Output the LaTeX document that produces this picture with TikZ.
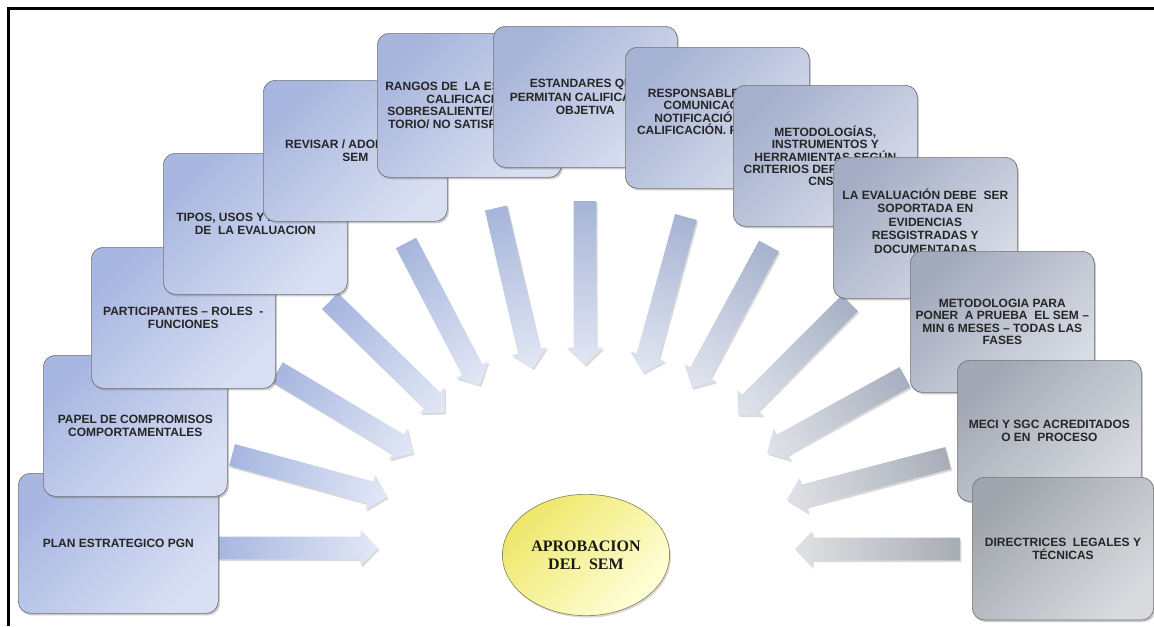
\documentclass[tikz,border=0pt]{standalone}
\usepackage{fontspec}
\setmainfont{Liberation Sans}
\newfontfamily\ellipsefont{Liberation Serif}
\usetikzlibrary{calc,shapes.geometric,shadows}

% palette: blue side on the left, grey side on the right
\definecolor{cardbluedark}{HTML}{A8B7E2}
\definecolor{cardbluelight}{HTML}{D9E0F4}
\definecolor{cardgreydark}{HTML}{A0A5AD}
\definecolor{cardgreylight}{HTML}{D8DADE}
\definecolor{arrbluedark}{HTML}{A6B6E0}
\definecolor{arrbluelight}{HTML}{E2E8F6}
\definecolor{arrgreydark}{HTML}{A8ACB3}
\definecolor{arrgreylight}{HTML}{E0E1E4}
\definecolor{ovaldark}{HTML}{EEE76A}
\definecolor{ovallight}{HTML}{FFFFDA}
\definecolor{ovalline}{HTML}{8A8757}

% block arrow dimensions
\newlength\arrshaft \setlength\arrshaft{8.5pt}
\newlength\arrhead \setlength\arrhead{13.5pt}
\newlength\arrheadlen \setlength\arrheadlen{13pt}

% shaded block arrow from a tail coordinate to a tip coordinate
\newcommand\blockarrow[3]{%
  \path let \p1=($(#3)-(#2)$) in \pgfextra{%
    \pgfmathsetmacro\arrtmplen{veclen(\x1,\y1)}%
    \pgfmathsetmacro\arrtmpang{atan2(\y1,\x1)}%
    \global\let\arrlen\arrtmplen
    \global\let\arrang\arrtmpang};
  \begin{scope}[shift={(#2)},xshift=1pt,yshift=-1.4pt,rotate=\arrang]
    \fill[black,opacity=0.15] (0,-\arrshaft) -- ({\arrlen pt-\arrheadlen},-\arrshaft)
      -- ({\arrlen pt-\arrheadlen},-\arrhead) -- (\arrlen pt,0)
      -- ({\arrlen pt-\arrheadlen},\arrhead) -- ({\arrlen pt-\arrheadlen},\arrshaft)
      -- (0,\arrshaft) -- cycle;
  \end{scope}
  \begin{scope}[transform canvas={shift={(#2)},rotate=\arrang}]
    \shade[#1] (0,-\arrshaft) -- ({\arrlen pt-\arrheadlen},-\arrshaft)
      -- ({\arrlen pt-\arrheadlen},-\arrhead) -- (\arrlen pt,0)
      -- ({\arrlen pt-\arrheadlen},\arrhead) -- ({\arrlen pt-\arrheadlen},\arrshaft)
      -- (0,\arrshaft) -- cycle;
  \end{scope}}

\tikzset{
  card/.style={rectangle, rounded corners=9pt, draw=black!55, line width=0.5pt,
    minimum width=138pt, minimum height=105.75pt, anchor=north west, inner sep=2pt,
    font=\bfseries\fontsize{9}{9.3}\selectfont, text=black!85, align=center,
    drop shadow={shadow xshift=1.2pt, shadow yshift=-1.5pt, opacity=0.35, fill=black!60},
    top color=cardbluedark!#1!cardgreydark, bottom color=cardbluelight!#1!cardgreylight,
    shading angle=45},
  arr/.style={left color=arrbluedark!#1!arrgreydark, right color=arrbluelight!#1!arrgreylight},
  oval/.style={ellipse, draw=ovalline, line width=0.5pt, minimum width=125pt, minimum height=91pt,
    top color=ovaldark, bottom color=ovallight, shading angle=45,
    drop shadow={shadow xshift=1pt, shadow yshift=-1.5pt, opacity=0.3, fill=black!50},
    font=\ellipsefont\bfseries\fontsize{12}{13.5}\selectfont, align=center, text=black!90},
  frame/.style={line width=2.3pt, black}
}

\begin{document}
\begin{tikzpicture}[x=0.75pt,y=-0.75pt]
\useasboundingbox (0,0) rectangle (1154,626);

% outer frame (top and left edges)
\coordinate (fbl) at (8.5,626);
\coordinate (ftl) at (8.5,8.5);
\coordinate (ftr) at (1154,8.5);
\draw[frame] (fbl) -- (ftl) -- (ftr);

% arrow tails and tips
\coordinate (s1) at (218,548);  \coordinate (e1) at (378,548);
\coordinate (s2) at (232,455);  \coordinate (e2) at (387,497);
\coordinate (s3) at (277,372);  \coordinate (e3) at (413,453);
\coordinate (s4) at (330,301);  \coordinate (e4) at (445,413);
\coordinate (s5) at (406,243);  \coordinate (e5) at (480,385);
\coordinate (s6) at (496,208);  \coordinate (e6) at (533,368);
\coordinate (s7) at (585,201);  \coordinate (e7) at (585,365);
\coordinate (s8) at (686,217);  \coordinate (e8) at (643,373);
\coordinate (s9) at (769,246);  \coordinate (e9) at (692,388);
\coordinate (s10) at (850,303); \coordinate (e10) at (738,415);
\coordinate (s11) at (905,377); \coordinate (e11) at (767,453);
\coordinate (s12) at (948,458); \coordinate (e12) at (787,500);
\coordinate (s13) at (960,549); \coordinate (e13) at (795,549);

\blockarrow{arr=100}{s1}{e1}
\blockarrow{arr=100}{s2}{e2}
\blockarrow{arr=98}{s3}{e3}
\blockarrow{arr=96}{s4}{e4}
\blockarrow{arr=92}{s5}{e5}
\blockarrow{arr=88}{s6}{e6}
\blockarrow{arr=80}{s7}{e7}
\blockarrow{arr=70}{s8}{e8}
\blockarrow{arr=58}{s9}{e9}
\blockarrow{arr=42}{s10}{e10}
\blockarrow{arr=26}{s11}{e11}
\blockarrow{arr=10}{s12}{e12}
\blockarrow{arr=0}{s13}{e13}

% cards, each one overlapping the previous one
\node[card=100, minimum width=150pt, minimum height=105pt] (plan) at (18,473)
  {PLAN ESTRATEGICO PGN};
\node[card=100] (papel) at (43,355)
  {PAPEL DE COMPROMISOS\\COMPORTAMENTALES};
\node[card=98] (particip) at (91,247)
  {PARTICIPANTES – ROLES~ -\\FUNCIONES};
\node[card=96] (tipos) at (163,153)
  {TIPOS, USOS Y ALCANCES\\DE~ LA EVALUACION};
\node[card=93] (revisar) at (263,80)
  {REVISAR / ADOPTAR EL\\SEM};
\node[card=89, minimum height=108pt] (rangos) at (377,33)
  {RANGOS DE~ LA ESCALA DE\\CALIFICACIÓN\\SOBRESALIENTE/SATISFAC\\TORIO/ NO SATISFACTORIO};
\node[card=82] (estand) at (493,26)
  {ESTANDARES QUE\\PERMITAN CALIFICACIÓN\\OBJETIVA};
\node[card=72] (resp) at (625,47)
  {RESPONSABLES DE LA\\COMUNICACIÓN Y\\NOTIFICACIÓN DE LA\\CALIFICACIÓN. RECURSOS\\\mbox{}};
\node[card=60] (metod) at (733,85)
  {METODOLOGÍAS,\\INSTRUMENTOS Y\\HERRAMIENTAS SEGÚN\\CRITERIOS DEFINIDOS POR\\CNSC};
\node[card=44, font=\bfseries\fontsize{9}{10.1}\selectfont] (evalua) at (833,157)
  {LA EVALUACIÓN DEBE~ SER\\SOPORTADA EN\\EVIDENCIAS\\RESGISTRADAS Y\\DOCUMENTADAS\\\mbox{}};
\node[card=28] (metpara) at (910,251)
  {METODOLOGIA PARA\\PONER~ A PRUEBA~ EL SEM –\\MIN 6 MESES – TODAS LAS\\FASES};
\node[card=12] (meci) at (957,360)
  {MECI Y SGC ACREDITADOS\\O EN~ PROCESO};
\node[card=0, minimum width=136pt, minimum height=107pt] (direct) at (972,477)
  {DIRECTRICES~ LEGALES Y\\TÉCNICAS};

% central goal
\node[oval] (aprob) at (586,555) {APROBACION\\DEL~ SEM};
\end{tikzpicture}
\end{document}
